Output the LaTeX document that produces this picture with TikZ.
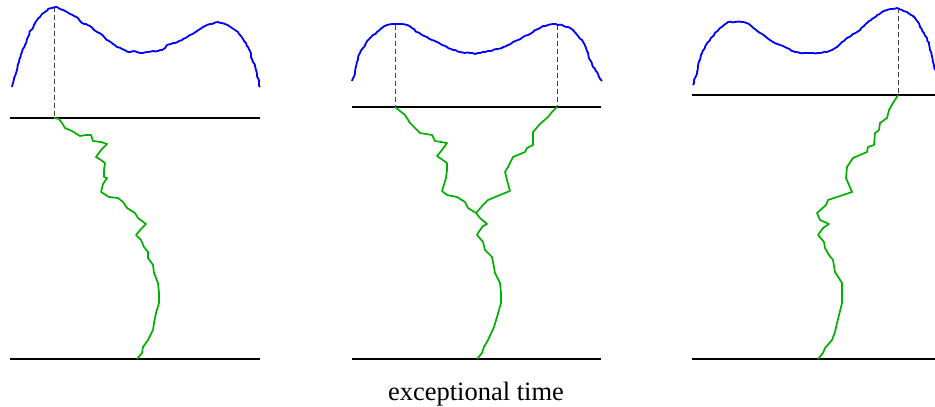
\documentclass[tikz,border=0pt]{standalone}
\usepackage{fontspec}
\setmainfont{Liberation Serif}
\usetikzlibrary{decorations.pathmorphing}
\begin{document}
\begin{tikzpicture}[x=1pt,y=-1pt,
  axis/.style={draw=black,line width=2pt},
  density/.style={draw=blue,line width=1.8pt,line join=round,
    decorate,decoration={random steps,segment length=2.5pt,amplitude=0.6pt}},
  path/.style={draw={rgb,255:red,0;green,175;blue,0},line width=1.7pt,line join=round},
  marker/.style={draw=black!75,line width=0.9pt,dash pattern=on 5pt off 3pt},
  lbl/.style={font=\fontsize{26.5}{30}\selectfont,anchor=base}]
\pgfmathsetseed{11}
\useasboundingbox (0,0) rectangle (935,407);
% ---------- panel 1 ----------
\coordinate (t1) at (54,118);
\coordinate (b1) at (137,359);
\draw[axis] (10,118) -- (260,118);
\draw[axis] (10,359) -- (260,359);
\draw[marker] (54,7) -- (t1);
\draw[density] (12,87) -- (14,78) -- (17,70) -- (19,62) -- (22,52) -- (25,45) -- (28,37) -- (30,31) -- (33,28) -- (35,23) -- (37,20) -- (40,17) -- (42,14) -- (45,12) -- (48,9) -- (52,8) -- (57,7) -- (60,9) -- (63,10) -- (67,12) -- (70,14) -- (74,16) -- (78,18) -- (80,21) -- (82,23) -- (86,24) -- (90,26) -- (93,29) -- (97,32) -- (101,34) -- (105,38) -- (109,41) -- (113,44) -- (117,47) -- (122,49) -- (126,51) -- (130,52) -- (134,51) -- (137,52) -- (140,53) -- (143,53) -- (148,52) -- (153,51) -- (158,51) -- (162,50) -- (165,48) -- (167,45) -- (171,44) -- (175,43) -- (179,41) -- (183,39) -- (187,37) -- (190,35) -- (194,33) -- (197,31) -- (200,29) -- (203,27) -- (207,25) -- (210,24) -- (214,23) -- (218,22) -- (222,23) -- (225,24) -- (229,26) -- (232,28) -- (235,30) -- (238,32) -- (241,36) -- (243,39) -- (246,43) -- (248,47) -- (250,51) -- (251,55) -- (252,59) -- (253,62) -- (255,66) -- (256,70) -- (257,74) -- (258,78) -- (259,83) -- (260,87);
\draw[path] (t1) -- (59,119) -- (62,123) -- (65,128) -- (72,131) -- (80,136) -- (86,135) -- (91,135) -- (93,141) -- (101,142) -- (107,144) -- (101,150) -- (96,157) -- (101,160) -- (105,163) -- (104,170) -- (104,177) -- (107,178) -- (103,184) -- (101,192) -- (109,197) -- (118,198) -- (123,202) -- (127,208) -- (135,213) -- (138,218) -- (146,224) -- (141,229) -- (136,235) -- (141,240) -- (144,247) -- (148,252) -- (148,258) -- (153,265) -- (154,273) -- (158,283) -- (159,293) -- (159,303) -- (156,313) -- (154,323) -- (153,330) -- (148,340) -- (143,347) -- (142,353) -- (b1);
% ---------- panel 2 ----------
\coordinate (t2a) at (395,107);
\coordinate (t2b) at (557,107);
\coordinate (m2) at (476,213);
\coordinate (b2) at (477,359);
\draw[axis] (352,107) -- (601,107);
\draw[axis] (352,359) -- (601,359);
\draw[marker] (395,25) -- (t2a);
\draw[marker] (557,25) -- (t2b);
\draw[density] (352,81) -- (355,72) -- (358,58) -- (360,53) -- (363,48) -- (366,43) -- (370,38) -- (373,35) -- (377,32) -- (382,28) -- (387,25) -- (392,24) -- (397,24) -- (402,24) -- (407,25) -- (412,28) -- (417,32) -- (422,35) -- (427,37) -- (432,40) -- (437,42) -- (442,45) -- (447,47) -- (453,50) -- (460,52) -- (465,53) -- (470,53) -- (475,54) -- (480,53) -- (485,52) -- (490,51) -- (497,49) -- (503,47) -- (508,45) -- (513,42) -- (518,40) -- (523,37) -- (528,35) -- (533,32) -- (538,29) -- (543,26) -- (548,25) -- (553,24) -- (558,25) -- (562,25) -- (568,27) -- (573,30) -- (578,36) -- (583,42) -- (586,48) -- (588,53) -- (590,60) -- (593,67) -- (597,72) -- (599,77) -- (602,81);
\draw[path] (t2a) -- (400,111) -- (405,115) -- (410,123) -- (420,133) -- (432,135) -- (435,141) -- (447,143) -- (442,150) -- (437,156) -- (447,163) -- (447,170) -- (446,178) -- (442,191) -- (447,195) -- (457,197) -- (465,202) -- (468,208) -- (m2);
\draw[path] (t2b) -- (552,112) -- (548,117) -- (540,124) -- (533,132) -- (533,145) -- (527,148) -- (525,152) -- (513,157) -- (508,167) -- (505,172) -- (507,180) -- (510,191) -- (500,195) -- (488,200) -- (483,205) -- (m2);
\draw[path] (m2) -- (480,218) -- (487,224) -- (483,226) -- (478,233) -- (477,235) -- (483,242) -- (485,250) -- (492,257) -- (493,262) -- (495,273) -- (500,283) -- (501,293) -- (501,303) -- (497,317) -- (494,327) -- (488,340) -- (484,347) -- (482,353) -- (b2);
% ---------- panel 3 ----------
\coordinate (t3) at (898,95);
\coordinate (b3) at (818,359);
\draw[axis] (692,95) -- (935,95);
\draw[axis] (692,359) -- (935,359);
\draw[marker] (898,8) -- (t3);
\draw[density] (693,85) -- (695,78) -- (697,72) -- (698,66) -- (700,60) -- (702,53) -- (705,47) -- (708,42) -- (712,37) -- (716,32) -- (720,28) -- (724,25) -- (728,22) -- (735,22) -- (742,22) -- (746,23) -- (750,25) -- (755,29) -- (760,33) -- (766,37) -- (773,42) -- (780,45) -- (787,48) -- (793,51) -- (800,53) -- (807,53) -- (813,53) -- (820,53) -- (827,52) -- (832,50) -- (837,47) -- (842,42) -- (847,38) -- (853,34) -- (860,30) -- (864,26) -- (867,23) -- (872,19) -- (877,15) -- (882,12) -- (887,10) -- (892,9) -- (897,8) -- (902,10) -- (907,12) -- (911,15) -- (915,18) -- (918,22) -- (920,27) -- (924,33) -- (927,38) -- (929,44) -- (930,50) -- (932,56) -- (933,62) -- (934,66) -- (935,70);
\draw[path] (t3) -- (893,103) -- (889,110) -- (887,118) -- (880,123) -- (879,130) -- (875,133) -- (874,145) -- (868,147) -- (867,152) -- (860,155) -- (853,158) -- (847,167) -- (846,178) -- (849,185) -- (852,192) -- (840,196) -- (828,200) -- (826,205) -- (817,213) -- (820,220) -- (829,224) -- (823,228) -- (818,235) -- (824,242) -- (825,248) -- (829,255) -- (833,260) -- (835,272) -- (842,283) -- (842,293) -- (842,303) -- (837,323) -- (835,332) -- (832,340) -- (825,348) -- (823,353) -- (b3);
% ---------- label ----------
\node[lbl] (caption) at (476,400) {exceptional time};
\end{tikzpicture}
\end{document}
